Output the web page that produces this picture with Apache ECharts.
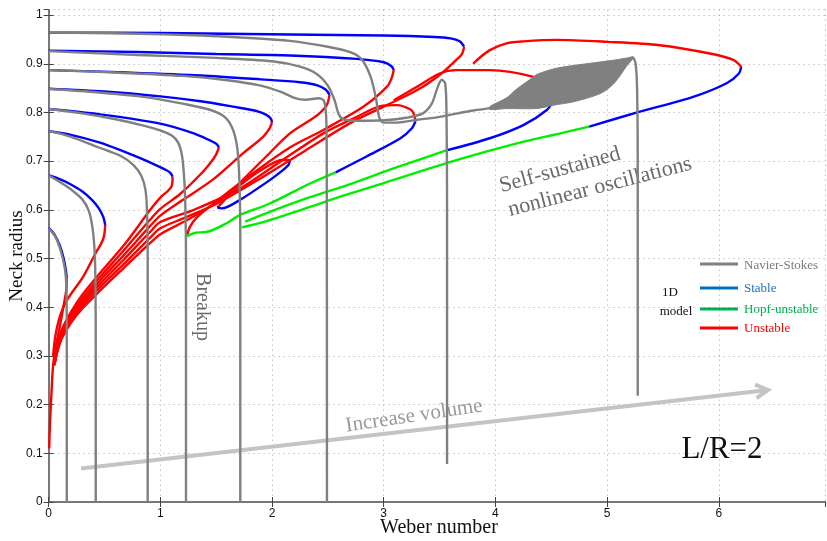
<!DOCTYPE html>
<html><head><meta charset="utf-8">
<script src="https://cdn.jsdelivr.net/npm/echarts@6/dist/echarts.min.js"></script>
<style>html,body{margin:0;padding:0;background:#fff}#c{width:827px;height:541px}</style>
</head><body><div id="c"></div>
<script>
// ---- axes ----
const xRange = [0, 6.955];
const yRange = [0, 1.011];
const xTickStep = 1;
const yTickStep = 0.1;
const xAxisTitle = 'Weber number';
const yAxisTitle = 'Neck radius';

// ---- Navier-Stokes (gray) ----
const ns1 = [[0,0.562],[0.06,0.545],[0.11,0.515],[0.145,0.48],[0.158,0.45],[0.162,0.4],[0.163,0.25],[0.163,0]];
const ns2 = [[0,0.671],[0.1,0.657],[0.2,0.642],[0.3,0.622],[0.36,0.598],[0.395,0.56],[0.413,0.51],[0.42,0.44],[0.422,0.3],[0.422,0]];
const ns3 = [[0,0.762],[0.2,0.75],[0.45,0.728],[0.65,0.71],[0.76,0.692],[0.83,0.67],[0.868,0.64],[0.882,0.59],[0.887,0.5],[0.887,0]];
const ns4 = [[0,0.807],[0.3,0.798],[0.6,0.786],[0.85,0.773],[1.0,0.763],[1.1,0.753],[1.16,0.738],[1.195,0.71],[1.215,0.66],[1.225,0.6],[1.23,0.5],[1.23,0]];
const ns5 = [[0,0.848],[0.4,0.842],[0.85,0.832],[1.2,0.818],[1.45,0.805],[1.58,0.79],[1.65,0.765],[1.69,0.725],[1.708,0.66],[1.716,0.56],[1.716,0]];
const ns6 = [[0,0.887],[0.6,0.882],[1.2,0.875],[1.6,0.866],[1.9,0.855],[2.08,0.842],[2.2,0.83],[2.3,0.826],[2.42,0.829],[2.465,0.824],[2.485,0.79],[2.49,0.7],[2.492,0]];
const ns7 = [[0,0.926],[0.8,0.918],[1.5,0.912],[2.0,0.905],[2.25,0.894],[2.4,0.879],[2.5,0.855],[2.56,0.825],[2.6,0.795],[2.65,0.785],[2.8,0.783],[3.0,0.784],[3.2,0.789],[3.35,0.798],[3.43,0.818],[3.48,0.85],[3.52,0.867],[3.55,0.86],[3.562,0.8],[3.567,0.6],[3.567,0.078]];
const ns8 = [[0,0.964],[0.7,0.962],[1.36,0.958],[1.8,0.953],[2.16,0.947],[2.5,0.935],[2.7,0.924],[2.8,0.91],[2.88,0.875],[2.93,0.83],[2.96,0.79],[3.0,0.779],[3.1,0.779],[3.3,0.785],[3.5,0.791],[3.8,0.804],[4.0,0.81]];
const ns8End = [[5.2,0.91],[5.23,0.913],[5.255,0.9],[5.268,0.85],[5.274,0.7],[5.274,0.218]];
const blobUpper = [[3.95,0.812],[4.1,0.83],[4.19,0.848],[4.3,0.866],[4.37,0.878],[4.55,0.891],[4.85,0.901],[5.05,0.907],[5.18,0.912],[5.23,0.914]];
const blobLower = [[3.95,0.806],[4.1,0.808],[4.37,0.808],[4.52,0.815],[4.7,0.822],[4.94,0.839],[5.05,0.857],[5.12,0.877],[5.18,0.897],[5.23,0.91]];

// ---- 1D model ----
const m1Blue = [[0,0.563],[0.05,0.55],[0.1,0.527],[0.135,0.5],[0.155,0.475],[0.162,0.462]];
const m1Red = [[0.162,0.462],[0.158,0.435],[0.132,0.4],[0.1,0.36],[0.065,0.32],[0.04,0.28],[0.025,0.22],[0.012,0.16],[0.005,0.11]];
const m2Blue = [[0,0.671],[0.1,0.663],[0.2,0.652],[0.3,0.638],[0.39,0.62],[0.45,0.603],[0.49,0.585],[0.507,0.569]];
const m2Red = [[0.507,0.569],[0.495,0.545],[0.465,0.528],[0.43,0.515],[0.31,0.463],[0.16,0.413],[0.1,0.38],[0.06,0.34],[0.04,0.3]];
const m3Blue = [[0,0.762],[0.2,0.754],[0.46,0.738],[0.65,0.722],[0.82,0.706],[0.95,0.693],[1.04,0.683],[1.09,0.676],[1.11,0.668]];
const m3Red = [[1.11,0.668],[1.1,0.648],[1.0,0.625],[0.91,0.6],[0.67,0.526],[0.46,0.47],[0.3,0.425],[0.2,0.39],[0.12,0.355],[0.08,0.325],[0.06,0.295]];
const m4Blue = [[0,0.807],[0.46,0.796],[1.0,0.777],[1.3,0.757],[1.44,0.743],[1.505,0.735],[1.525,0.728]];
const m4Red = [[1.525,0.728],[1.5,0.714],[1.46,0.7],[1.36,0.673],[1.18,0.633],[1.0,0.602],[0.91,0.58],[0.67,0.516],[0.46,0.462],[0.3,0.418],[0.2,0.385],[0.12,0.352],[0.08,0.322],[0.058,0.29]];
const m5Blue = [[0,0.849],[0.5,0.843],[1.0,0.833],[1.36,0.823],[1.65,0.812],[1.86,0.803],[1.95,0.795],[1.99,0.787],[2.0,0.78]];
const m5Red = [[2.0,0.78],[1.98,0.768],[1.92,0.75],[1.74,0.716],[1.47,0.662],[1.2,0.62],[1.0,0.588],[0.91,0.567],[0.67,0.506],[0.46,0.455],[0.3,0.412],[0.2,0.38],[0.12,0.348],[0.08,0.318],[0.056,0.288]];
const m6Blue = [[0,0.887],[0.7,0.882],[1.36,0.876],[1.9,0.868],[2.25,0.862],[2.4,0.856],[2.48,0.847],[2.515,0.836]];
const m6RedUpper = [[2.515,0.836],[2.49,0.815],[2.42,0.797],[2.34,0.784],[2.16,0.757],[1.95,0.71],[1.75,0.664],[1.6,0.627],[1.53,0.609],[1.51,0.605]];
const m6BlueLoop = [[1.51,0.605],[1.55,0.603],[1.71,0.62],[1.98,0.661],[2.1,0.682],[2.15,0.693],[2.16,0.702]];
const m6RedLower = [[2.16,0.702],[2.1,0.703],[1.89,0.68],[1.68,0.645],[1.5,0.615],[1.25,0.58],[1.0,0.55],[0.91,0.532],[0.67,0.48],[0.46,0.434],[0.3,0.397],[0.2,0.368],[0.12,0.337],[0.08,0.31],[0.05,0.28]];
const m7Blue = [[0,0.927],[0.8,0.924],[1.5,0.92],[2.16,0.917],[2.76,0.91],[3.0,0.903],[3.07,0.895],[3.09,0.887]];
const m7RedUpper = [[3.09,0.887],[3.07,0.87],[3.03,0.853],[2.82,0.812],[2.46,0.764],[2.16,0.728],[1.8,0.67],[1.5,0.617],[1.33,0.585],[1.265,0.565],[1.24,0.546]];
const m7Green = [[1.24,0.546],[1.3,0.552],[1.44,0.556],[1.59,0.572],[1.71,0.589],[1.98,0.613],[2.34,0.654],[2.57,0.677]];
const m7BlueLower = [[2.57,0.677],[2.85,0.71],[3.15,0.747],[3.25,0.767],[3.285,0.782]];
const m7RedLower = [[3.285,0.782],[3.27,0.797],[3.24,0.806],[3.12,0.815],[2.97,0.813],[2.76,0.791],[2.46,0.757],[2.1,0.703],[1.7,0.642],[1.3,0.6],[1.0,0.575],[0.91,0.555],[0.67,0.497],[0.46,0.448],[0.3,0.407],[0.2,0.376],[0.12,0.344],[0.08,0.315],[0.054,0.285]];
const m8Blue = [[0,0.964],[1.0,0.963],[2.16,0.96],[3.0,0.958],[3.45,0.955],[3.6,0.952],[3.68,0.946],[3.72,0.935]];
const m8Red = [[3.72,0.935],[3.7,0.92],[3.65,0.908],[3.5,0.877],[3.3,0.846],[3.0,0.812],[2.7,0.778],[2.3,0.722],[1.9,0.665],[1.5,0.612],[1.2,0.582],[1.0,0.562],[0.91,0.543],[0.67,0.488],[0.46,0.441],[0.3,0.402],[0.2,0.372],[0.12,0.34],[0.08,0.312],[0.052,0.282]];
const h1Green = [[1.76,0.576],[1.98,0.596],[2.34,0.626],[2.7,0.653],[3.1,0.686],[3.56,0.722]];
const h1Blue = [[3.56,0.722],[3.95,0.747],[4.25,0.774],[4.46,0.805],[4.52,0.825],[4.535,0.838]];
const h1Red = [[4.535,0.838],[4.49,0.853],[4.34,0.873],[3.95,0.887],[3.65,0.887],[3.5,0.88],[3.3,0.853],[3.09,0.825]];
const h2Green = [[1.73,0.564],[1.95,0.577],[2.34,0.606],[2.61,0.627],[3.0,0.655],[3.65,0.702],[4.2,0.737],[4.6,0.758],[4.84,0.771]];
const h2Blue = [[4.84,0.771],[5.27,0.8],[5.77,0.832],[6.07,0.86],[6.18,0.88],[6.2,0.894]];
const h2Red = [[6.2,0.894],[6.13,0.908],[5.92,0.921],[5.47,0.938],[5.0,0.945],[4.55,0.949],[4.25,0.946],[4.1,0.942],[3.95,0.928],[3.8,0.9]];

// ---- annotation arrow (data coords) ----
const arrowStart = [0.29, 0.069];
const arrowEnd = [6.44, 0.23];

const GRAY = '#808080', BLUE = '#0000ff', RED = '#ff0000', GREEN = '#00ee00';
const modelCurves = [
  [m1Blue, BLUE],[m1Red, RED],[m2Blue, BLUE],[m2Red, RED],[m3Blue, BLUE],[m3Red, RED],
  [m4Blue, BLUE],[m4Red, RED],[m5Blue, BLUE],[m5Red, RED],
  [m6Blue, BLUE],[m6RedUpper, RED],[m6BlueLoop, BLUE],[m6RedLower, RED],
  [m7Blue, BLUE],[m7RedUpper, RED],[m7Green, GREEN],[m7BlueLower, BLUE],[m7RedLower, RED],
  [m8Blue, BLUE],[m8Red, RED],
  [h1Green, GREEN],[h1Blue, BLUE],[h1Red, RED],[h2Green, GREEN],[h2Blue, BLUE],[h2Red, RED]
];
const nsCurves = [ns1, ns2, ns3, ns4, ns5, ns6, ns7, ns8, ns8End];

const series = [];
series.push({
  type: 'custom', silent: true, z: 1, clip: false, data: [[0, 0]],
  renderItem: function (params, api) {
    const p0 = api.coord(arrowStart), p1 = api.coord(arrowEnd);
    const ang = Math.atan2(p1[1] - p0[1], p1[0] - p0[0]);
    const L = 14, a = 0.5;
    const w1 = [p1[0] - L * Math.cos(ang - a), p1[1] - L * Math.sin(ang - a)];
    const w2 = [p1[0] - L * Math.cos(ang + a), p1[1] - L * Math.sin(ang + a)];
    return { type: 'group', children: [
      { type: 'line', shape: { x1: p0[0], y1: p0[1], x2: p1[0], y2: p1[1] }, style: { stroke: '#c4c4c4', lineWidth: 4 } },
      { type: 'polyline', shape: { points: [w1, p1, w2] }, style: { stroke: '#c4c4c4', lineWidth: 4, fill: null } }
    ]};
  }
});
modelCurves.forEach(function (c) {
  series.push({ type: 'line', data: c[0], showSymbol: false, smooth: 0.3, silent: true, z: 3,
    lineStyle: { color: c[1], width: 2.4 } });
});
nsCurves.forEach(function (d) {
  series.push({ type: 'line', data: d, showSymbol: false, smooth: 0.3, silent: true, z: 4,
    lineStyle: { color: GRAY, width: 2.4 } });
});
series.push({
  type: 'custom', silent: true, z: 4, data: [[0, 0]],
  renderItem: function (params, api) {
    const pts = blobUpper.map(function (p) { return api.coord(p); })
      .concat(blobLower.slice().reverse().map(function (p) { return api.coord(p); }));
    return { type: 'polygon', shape: { points: pts, smooth: 0.3 }, style: { fill: GRAY, stroke: GRAY, lineWidth: 1 } };
  }
});

const axisCol = '#707070';
const serif = 'Liberation Serif';
const gridDot = { type: [1, 4], color: '#a8a8a8', width: 1 };
function xAx(pos, main) {
  return { type: 'value', position: pos, min: xRange[0], max: xRange[1], interval: xTickStep,
    axisLine: { show: true, lineStyle: { color: axisCol, width: 1.5 } },
    axisTick: { show: true, inside: true, length: 5, lineStyle: { color: '#444' } },
    axisLabel: { show: main, color: '#111', fontSize: 12, fontFamily: 'Liberation Sans', margin: 6, showMaxLabel: false },
    splitLine: { show: main, lineStyle: gridDot } };
}
function yAx(pos, main) {
  return { type: 'value', position: pos, min: yRange[0], max: yRange[1], interval: yTickStep,
    axisLine: { show: true, lineStyle: { color: axisCol, width: 1.5 } },
    axisTick: { show: true, inside: true, length: 5, lineStyle: { color: '#444' } },
    axisLabel: { show: main, color: '#111', fontSize: 12, fontFamily: 'Liberation Sans', margin: 6, showMaxLabel: false },
    splitLine: { show: main, lineStyle: gridDot } };
}

function txt(x, y, text, size, color, rot) {
  return { type: 'text', x: x, y: y, rotation: rot || 0, z: 2,
    style: { text: text, font: size + 'px "' + serif + '"', fill: color, align: 'center', verticalAlign: 'middle' } };
}
function legLine(y, color) {
  return { type: 'line', z: 10, shape: { x1: 700, y1: y, x2: 738, y2: y }, style: { stroke: color, lineWidth: 3 } };
}
function legText(y, text, color) {
  return { type: 'text', x: 744, y: y, z: 10, style: { text: text, font: '13px "' + serif + '"', fill: color, align: 'left', verticalAlign: 'middle' } };
}

const chart = echarts.init(document.getElementById('c'), null, { renderer: 'canvas' });
chart.setOption({
  animation: false,
  backgroundColor: '#fff',
  grid: { left: 48.6, right: 1.5, top: 9.7, bottom: 39, containLabel: false, outerBoundsMode: 'none' },
  xAxis: [xAx('bottom', true), xAx('top', false)],
  yAxis: [yAx('left', true), yAx('right', false)],
  series: series,
  graphic: [
    txt(439, 528, xAxisTitle, 20, '#111', 0),
    txt(17, 256, yAxisTitle, 19, '#111', Math.PI / 2),
    txt(202, 307, 'Breakup', 20, '#6a6a6a', -Math.PI / 2),
    txt(414, 416, 'Increase volume', 21, '#9a9a9a', 0.148),
    txt(560, 170, 'Self-sustained', 22, '#6a6a6a', 0.27),
    txt(600, 187, 'nonlinear oscillations', 22, '#6a6a6a', 0.25),
    txt(722, 450, 'L/R=2', 31, '#111', 0),
    legLine(264, '#808080'), legText(266, 'Navier-Stokes', '#7a7a7a'),
    legLine(288, '#0070c0'), legText(289, 'Stable', '#1f6fc0'),
    legLine(309, '#00b050'), legText(310, 'Hopf-unstable', '#00b050'),
    legLine(328, '#ff0000'), legText(329, 'Unstable', '#ff0000'),
    { type: 'text', x: 670, y: 293, z: 10, style: { text: '1D', font: '13px "' + serif + '"', fill: '#111', align: 'center', verticalAlign: 'middle' } },
    { type: 'text', x: 676, y: 312, z: 10, style: { text: 'model', font: '13px "' + serif + '"', fill: '#111', align: 'center', verticalAlign: 'middle' } }
  ]
});
</script></body></html>
